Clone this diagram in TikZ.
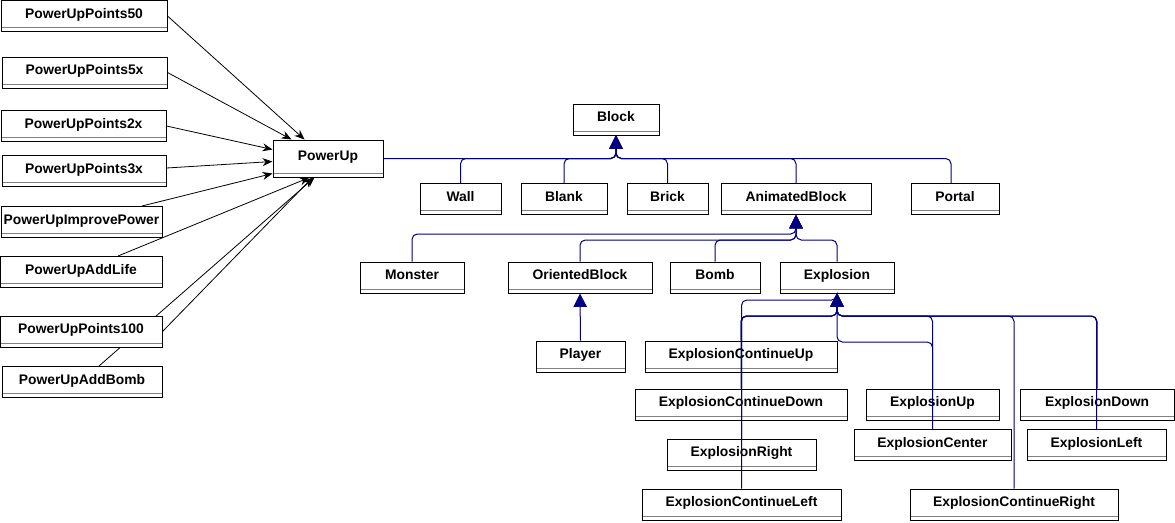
\documentclass[tikz,border=0pt]{standalone}
\usepackage{fontspec}
\setmainfont{Liberation Sans}
\usetikzlibrary{arrows.meta,backgrounds}
\definecolor{genblue}{HTML}{000080}

\begin{document}
\begin{tikzpicture}[x=0.75pt,y=-0.75pt]

    \tikzset{cls/.style={draw, fill=white, line width=0.75pt, inner sep=0pt,
      font=\bfseries\fontsize{10.4}{12}\selectfont, text height=7.6pt, text depth=4.6pt,
      minimum height=23.25pt, minimum width=#1*0.75pt,
      path picture={\draw[gray, line width=0.75pt] ([yshift=3pt]path picture bounding box.south west) -- ([yshift=3pt]path picture bounding box.south east);}}}
    \tikzset{uses/.style={-{Stealth[length=7.5pt,width=6pt]}, line width=0.6pt}}
    \tikzset{isa/.style={genblue, line width=0.75pt, rounded corners=4pt, -{Triangle[length=10pt,width=10pt]}}}

    \useasboundingbox (0,0) rectangle (1175,522);

    % POWER UPS
    \node(p50) at (84,16) [cls=166] {PowerUpPoints50};
    \node(p5x) at (84.5,72.5) [cls=165] {PowerUpPoints5x};
    \node(p2x) at (83.5,126) [cls=165] {PowerUpPoints2x};
    \node(p3x) at (84,171) [cls=164] {PowerUpPoints3x};
    \node(pimp) at (81.5,222) [cls=161] {PowerUpImprovePower};
    \node(plife) at (81,272) [cls=162] {PowerUpAddLife};
    \node(p100) at (81,331.5) [cls=162] {PowerUpPoints100};
    \node(pbomb) at (82,382) [cls=160] {PowerUpAddBomb};
    \node(powerup) at (328,158.5) [cls=110, minimum height=27.75pt] {PowerUp};

    % BLOCKS
    \node(block) at (616,119.5) [cls=86] {Block};
    \node(wall) at (460.5,199) [cls=81] {Wall};
    \node(blank) at (564,199) [cls=86] {Blank};
    \node(brick) at (667.5,199) [cls=81] {Brick};
    \node(animated) at (796,199) [cls=150] {AnimatedBlock};
    \node(portal) at (955,199) [cls=88] {Portal};

    % ANIMATED BLOCKS
    \node(monster) at (412,277.5) [cls=104] {Monster};
    \node(oriented) at (580,277.5) [cls=144] {OrientedBlock};
    \node(bomb) at (715,277.5) [cls=90] {Bomb};
    \node(explosion) at (837,277.5) [cls=114] {Explosion};
    \node(player) at (580.5,356.5) [cls=89] {Player};

    % EXPLOSIONS
    \node(ecu) at (741,356.5) [cls=192] {ExplosionContinueUp};
    \node(ecd) at (741,404.5) [cls=212] {ExplosionContinueDown};
    \node(eright) at (741.5,454.5) [cls=149] {ExplosionRight};
    \node(ecl) at (741.5,504.5) [cls=199] {ExplosionContinueLeft};
    \node(eup) at (932.5,404.5) [cls=133] {ExplosionUp};
    \node(ecenter) at (932.5,445) [cls=157] {ExplosionCenter};
    \node(edown) at (1097,404.5) [cls=154] {ExplosionDown};
    \node(eleft) at (1096.5,445) [cls=139] {ExplosionLeft};
    \node(ecr) at (1014,504.5) [cls=208] {ExplosionContinueRight};

    % POWER UP LINKS
    \begin{scope}[on background layer]
    \draw[uses] (p50.east) -- ([xshift=24pt]powerup.north west);
    \draw[uses] (p5x.east) -- ([xshift=14.25pt]powerup.north west);
    \draw[uses] (p2x.east) -- ([yshift=-7.5pt]powerup.north west);
    \draw[uses] ([yshift=2.25pt]p3x.east) -- ([yshift=-16.5pt]powerup.north west);
    \draw[uses] ([xshift=45.4pt]pimp.north) -- ([yshift=3pt]powerup.south west);
    \draw[uses] ([xshift=27.75pt]plife.north) -- ([xshift=27.75pt]powerup.south west);
    \draw[uses] (p100.east) -- ([xshift=30pt]powerup.south west);
    \draw[uses] ([xshift=12.75pt]pbomb.north) -- ([xshift=31.5pt]powerup.south west);
    \end{scope}

    % INHERITANCE
    \coordinate (blockjoin) at (616,158.5);
    \coordinate (animjoin) at (796,234);
    \coordinate (animjoinb) at (796,240);
    \coordinate (expjoin) at (837,300);
    \coordinate (expjoinb) at (837,316);
    \coordinate (expjoinc) at (837,342);

    \draw[isa] (powerup.east) -- (blockjoin) -- (block.south);
    \draw[isa] (wall.north) |- (blockjoin) -- (block.south);
    \draw[isa] (blank.north) |- (blockjoin) -- (block.south);
    \draw[isa] (brick.north) |- (blockjoin) -- (block.south);
    \draw[isa] (animated.north) |- (blockjoin) -- (block.south);
    \draw[isa] ([xshift=-3pt]portal.north) |- (blockjoin) -- (block.south);

    \draw[isa] (monster.north) |- (animjoin) -- (animated.south);
    \draw[isa] (oriented.north) |- (animjoinb) -- (animated.south);
    \draw[isa] (bomb.north) |- (animjoinb) -- (animated.south);
    \draw[isa] (explosion.north) |- (animjoinb) -- (animated.south);

    \draw[isa] (player.north) -- (oriented.south);

    \draw[isa] (ecl.north) |- (expjoin) -- (explosion.south);
    \draw[isa] (ecu.north) |- (expjoinb) -- (explosion.south);
    \draw[isa] (ecd.north) |- (expjoinb) -- (explosion.south);
    \draw[isa] (eright.north) |- (expjoinb) -- (explosion.south);
    \draw[isa] (eup.north) |- (expjoinb) -- (explosion.south);
    \draw[isa] (ecenter.north) |- (expjoinc) -- (explosion.south);
    \draw[isa] (edown.north) |- (expjoinb) -- (explosion.south);
    \draw[isa] (eleft.north) |- (expjoinb) -- (explosion.south);
    \draw[isa] (ecr.north) |- (expjoinb) -- (explosion.south);

\end{tikzpicture}
\end{document}
